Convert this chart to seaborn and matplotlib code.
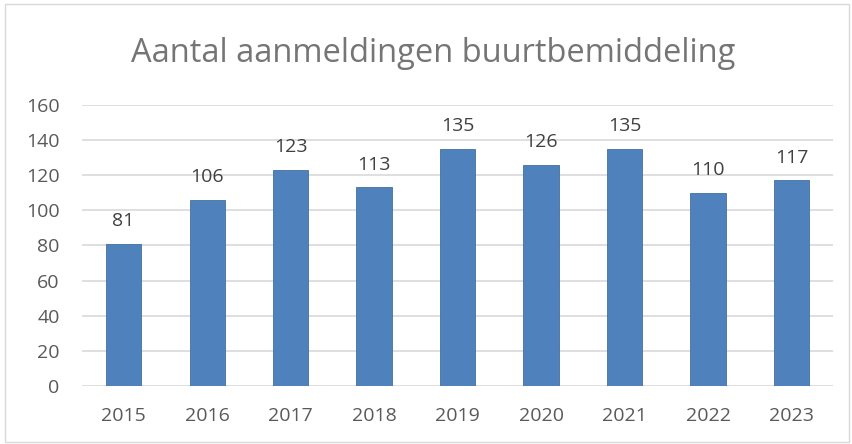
import matplotlib
matplotlib.use('Agg')
import matplotlib.pyplot as plt
import seaborn as sns
import pandas as pd
from matplotlib.patches import Rectangle

jaren = ['2015', '2016', '2017', '2018', '2019', '2020', '2021', '2022', '2023']
aanmeldingen = [81, 106, 123, 113, 135, 126, 135, 110, 117]

df = pd.DataFrame({'jaar': jaren, 'aantal': aanmeldingen})

sns.set_style('white')
plt.rcParams['font.family'] = ['Open Sans', 'DejaVu Sans']

c_tekst = '#595959'
c_balk = '#4f81bd'
c_grid = '#d9d9d9'

fig = plt.figure(figsize=(8.52, 4.44), dpi=100)
ax = fig.add_axes([0.096, 0.131, 0.882, 0.6325])

sns.barplot(data=df, x='jaar', y='aantal', color=c_balk, width=0.42,
            saturation=1, ax=ax, zorder=3)
for p in ax.patches:
    p.set_edgecolor('#41719c')
    p.set_linewidth(0.6)

ax.bar_label(ax.containers[0], padding=10, fontsize=14, color='#404040')

ax.set_ylim(0, 160)
ax.set_yticks(range(0, 161, 20))
ax.yaxis.grid(True, color=c_grid, linewidth=1.2, zorder=0)
ax.set_axisbelow(True)
for s in ax.spines.values():
    s.set_visible(False)
ax.set_xlabel('')
ax.set_ylabel('')
ax.tick_params(axis='both', length=0, labelsize=14, colors=c_tekst)
ax.tick_params(axis='x', pad=15)
ax.tick_params(axis='y', pad=16)

fig.text(0.508, 0.88, 'Aantal aanmeldingen buurtbemiddeling', ha='center',
         va='center', fontsize=23.5, color='#757575')

fig.patches.append(Rectangle((0.006, 0.005), 0.99, 0.985, transform=fig.transFigure,
                             fill=False, edgecolor='#d9d9d9', linewidth=1))

fig.savefig('out.png', dpi=100)
